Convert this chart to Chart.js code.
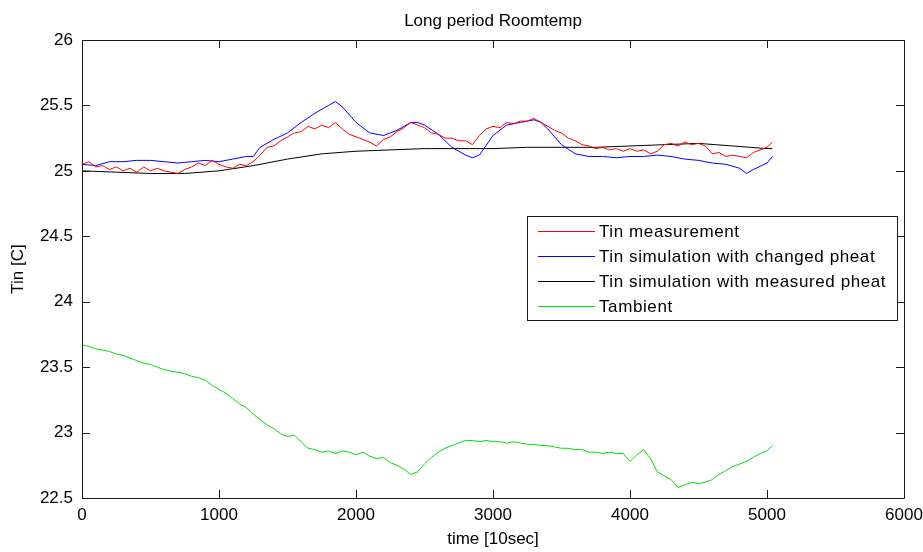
<!DOCTYPE html>
<html>
<head>
<meta charset="utf-8">
<title>Long period Roomtemp</title>
<script src="https://cdn.jsdelivr.net/npm/chart.js@4"></script>
<style>
  html, body { margin:0; padding:0; background:#fff; }
</style>
</head>
<body>
<canvas id="grafica" width="923" height="552"></canvas>
<script>
// ========== DATOS ===================
const TITULO = "Long period Roomtemp";
const X_TITULO = "time [10sec]";
const Y_TITULO = "Tin [C]";

const xTickLabels = ["0", "1000", "2000", "3000", "4000", "5000", "6000"];
const yTickLabels = ["22.5", "23", "23.5", "24", "24.5", "25", "25.5", "26"];

const etiquetas = [
  "Tin measurement",
  "Tin simulation with changed pheat",
  "Tin simulation with measured pheat",
  "Tambient"
];

// tiempos de medida (rojo y verde)
const tMedida = [
  0, 50, 100, 150, 200, 250, 300, 350, 400, 450,
  500, 550, 600, 650, 700, 750, 800, 850, 900, 950,
  1000, 1050, 1100, 1150, 1200, 1250, 1300, 1350, 1400, 1450,
  1500, 1550, 1600, 1650, 1700, 1750, 1800, 1850, 1900, 1950,
  2000, 2050, 2100, 2150, 2200, 2250, 2300, 2350, 2400, 2450,
  2500, 2550, 2600, 2650, 2700, 2750, 2800, 2850, 2900, 2950,
  3000, 3050, 3100, 3150, 3200, 3250, 3300, 3350, 3400, 3450,
  3500, 3550, 3600, 3650, 3700, 3750, 3800, 3850, 3900, 3950,
  4000, 4050, 4100, 4150, 4200, 4250, 4300, 4350, 4400, 4450,
  4500, 4550, 4600, 4650, 4700, 4750, 4800, 4850, 4900, 4950,
  5000, 5040
];

const tinMedida = [
  25.05, 25.07, 25.03, 25.04, 25.01, 25.03, 25.00, 25.02, 24.99, 25.03,
  25.00, 25.02, 25.00, 24.99, 24.98, 25.01, 25.03, 25.06, 25.04, 25.08,
  25.05, 25.03, 25.02, 25.05, 25.04, 25.07, 25.12, 25.18, 25.19, 25.23,
  25.26, 25.29, 25.30, 25.34, 25.32, 25.35, 25.33, 25.37, 25.32, 25.28,
  25.26, 25.24, 25.22, 25.19, 25.24, 25.26, 25.30, 25.33, 25.37, 25.35,
  25.33, 25.29, 25.28, 25.25, 25.25, 25.23, 25.23, 25.20, 25.27, 25.32,
  25.34, 25.33, 25.37, 25.36, 25.38, 25.38, 25.40, 25.37, 25.34, 25.31,
  25.29, 25.25, 25.23, 25.20, 25.19, 25.17, 25.18, 25.16, 25.17, 25.15,
  25.17, 25.15, 25.16, 25.13, 25.15, 25.20, 25.21, 25.19, 25.22, 25.20,
  25.21, 25.19, 25.13, 25.14, 25.11, 25.12, 25.11, 25.10, 25.14, 25.16,
  25.18, 25.22
];

const tambiente = [
  23.67, 23.66, 23.64, 23.63, 23.62, 23.60, 23.59, 23.57, 23.55, 23.53,
  23.52, 23.50, 23.48, 23.47, 23.46, 23.45, 23.43, 23.42, 23.40, 23.36,
  23.33, 23.30, 23.26, 23.22, 23.19, 23.14, 23.10, 23.06, 23.03, 22.99,
  22.97, 22.98, 22.93, 22.88, 22.87, 22.85, 22.86, 22.84, 22.86, 22.85,
  22.83, 22.85, 22.82, 22.80, 22.81, 22.77, 22.75, 22.72, 22.68, 22.70,
  22.76, 22.81, 22.85, 22.88, 22.90, 22.92, 22.94, 22.94, 22.93, 22.94,
  22.93, 22.93, 22.92, 22.93, 22.92, 22.91, 22.91, 22.90, 22.90, 22.89,
  22.88, 22.88, 22.87, 22.87, 22.85, 22.85, 22.84, 22.85, 22.84, 22.84,
  22.78, 22.83, 22.87, 22.80, 22.70, 22.67, 22.64, 22.58, 22.60, 22.62,
  22.61, 22.62, 22.64, 22.68, 22.71, 22.74, 22.76, 22.78, 22.81, 22.84,
  22.86, 22.90
];

// simulacion con pheat cambiado (azul)
const tAzul = [
  0, 100, 200, 300, 400, 500, 600, 700, 800, 900,
  1000, 1100, 1200, 1250, 1300, 1400, 1500, 1600, 1700, 1800,
  1850, 1900, 2000, 2100, 2200, 2300, 2400, 2450, 2500, 2600,
  2700, 2800, 2850, 2900, 3000, 3100, 3200, 3300, 3350, 3400,
  3500, 3600, 3700, 3800, 3900, 4000, 4100, 4200, 4300, 4400,
  4500, 4600, 4700, 4800, 4850, 4900, 5000, 5040
];
const tinSimCambiado = [
  25.05, 25.04, 25.07, 25.07, 25.08, 25.08, 25.07, 25.06, 25.07, 25.08,
  25.07, 25.09, 25.11, 25.11, 25.18, 25.24, 25.29, 25.37, 25.44, 25.50,
  25.53, 25.49, 25.37, 25.29, 25.27, 25.31, 25.37, 25.37, 25.35, 25.28,
  25.18, 25.12, 25.10, 25.12, 25.27, 25.35, 25.37, 25.39, 25.37, 25.32,
  25.20, 25.13, 25.11, 25.11, 25.10, 25.11, 25.11, 25.12, 25.11, 25.09,
  25.08, 25.06, 25.05, 25.02, 24.98, 25.01, 25.06, 25.11
];

// simulacion con pheat medido (negro)
const tNegro = [
  0, 250, 500, 750, 1000, 1250, 1500, 1750, 2000, 2250,
  2500, 2750, 3000, 3250, 3500, 3750, 4000, 4250, 4500, 4750,
  5000, 5040
];
const tinSimMedido = [
  25.00, 24.99, 24.98, 24.98, 25.00, 25.04, 25.09, 25.13, 25.15, 25.16,
  25.17, 25.17, 25.17, 25.18, 25.18, 25.18, 25.19, 25.20, 25.21, 25.19,
  25.17, 25.17
];

const colores = ["#ff0000", "#0000ff", "#000000", "#00e000"];

// -------------- UTILS ----------------
const FUENTE = "Arial, 'Liberation Sans', sans-serif";
function pares(xs, ys) { return xs.map((x, i) => ({ x: x, y: ys[i] })); }

// ========== PLUGIN MARCO (caja, ticks hacia dentro, titulo, leyenda) ==========
const marco = {
  id: "marco",
  afterDraw(chart) {
    const ctx = chart.ctx;
    const a = chart.chartArea;
    const sx = chart.scales.x, sy = chart.scales.y;
    const L = 8;

    ctx.save();
    ctx.strokeStyle = "#1a1a1a";
    ctx.lineWidth = 1;
    ctx.beginPath();
    ctx.rect(Math.round(a.left) + 0.5, Math.round(a.top) + 0.5,
             Math.round(a.right - a.left), Math.round(a.bottom - a.top));
    sx.ticks.forEach(t => {
      const px = Math.round(sx.getPixelForValue(t.value)) + 0.5;
      ctx.moveTo(px, a.bottom); ctx.lineTo(px, a.bottom - L);
      ctx.moveTo(px, a.top); ctx.lineTo(px, a.top + L);
    });
    sy.ticks.forEach(t => {
      const py = Math.round(sy.getPixelForValue(t.value)) + 0.5;
      ctx.moveTo(a.left, py); ctx.lineTo(a.left + L, py);
      ctx.moveTo(a.right, py); ctx.lineTo(a.right - L, py);
    });
    ctx.stroke();

    // titulo
    ctx.fillStyle = "#000";
    ctx.font = "17px " + FUENTE;
    ctx.textAlign = "center";
    ctx.textBaseline = "alphabetic";
    ctx.fillText(TITULO, (a.left + a.right) / 2, 26);

    // leyenda
    const bx = 527.5, by = 216.5, bw = 370, bh = 104;
    ctx.fillStyle = "#fff";
    ctx.fillRect(bx, by, bw, bh);
    ctx.strokeStyle = "#1a1a1a";
    ctx.strokeRect(bx, by, bw, bh);
    ctx.font = "17px " + FUENTE;
    ctx.letterSpacing = "0.6px";
    ctx.textAlign = "left";
    ctx.textBaseline = "middle";
    chart.data.datasets.forEach((ds, i) => {
      const ry = Math.round(by + 14 + i * 25.3) + 0.5;
      ctx.strokeStyle = ds.borderColor;
      ctx.beginPath();
      ctx.moveTo(538, ry); ctx.lineTo(595, ry);
      ctx.stroke();
      ctx.fillStyle = "#000";
      ctx.fillText(ds.label, 599, ry + 1);
    });
    ctx.restore();
  }
};

// ========== GRAFICA ==========
function graficar() {
  const ctx = document.getElementById("grafica");
  const series = [
    pares(tMedida, tinMedida),
    pares(tAzul, tinSimCambiado),
    pares(tNegro, tinSimMedido),
    pares(tMedida, tambiente)
  ];

  new Chart(ctx, {
    type: "line",
    data: {
      datasets: series.map((d, i) => ({
        label: etiquetas[i],
        data: d,
        borderColor: colores[i],
        borderWidth: 1,
        pointRadius: 0,
        tension: 0,
        fill: false
      }))
    },
    options: {
      responsive: false,
      animation: false,
      devicePixelRatio: 1,
      layout: { padding: { top: 40, right: 19, left: 0, bottom: 0 } },
      plugins: { legend: { display: false }, title: { display: false }, tooltip: { enabled: false } },
      scales: {
        x: {
          type: "linear", min: 0, max: 6000,
          grid: { display: false, drawTicks: false },
          border: { display: false },
          ticks: {
            stepSize: 1000, padding: 7, color: "#000", maxRotation: 0,
            font: { family: FUENTE, size: 17 },
            callback: (v, i) => xTickLabels[i]
          },
          title: {
            display: true, text: X_TITULO, color: "#000",
            font: { family: FUENTE, size: 17 }, padding: { top: 0, bottom: 2 }
          },
          afterFit: s => { s.height = 54; s.paddingLeft = 0; s.paddingRight = 0; }
        },
        y: {
          type: "linear", min: 22.5, max: 26,
          grid: { display: false, drawTicks: false },
          border: { display: false },
          ticks: {
            stepSize: 0.5, padding: 9, color: "#000",
            font: { family: FUENTE, size: 17 },
            callback: (v, i) => yTickLabels[i]
          },
          title: {
            display: true, text: Y_TITULO, color: "#000",
            font: { family: FUENTE, size: 17 }, padding: { top: 8, bottom: 0 }
          },
          afterFit: s => { s.width = 82; s.paddingTop = 0; s.paddingBottom = 0; }
        }
      }
    },
    plugins: [marco]
  });
}

// ========== INICIO ==========
window.onload = graficar;
</script>
</body>
</html>
